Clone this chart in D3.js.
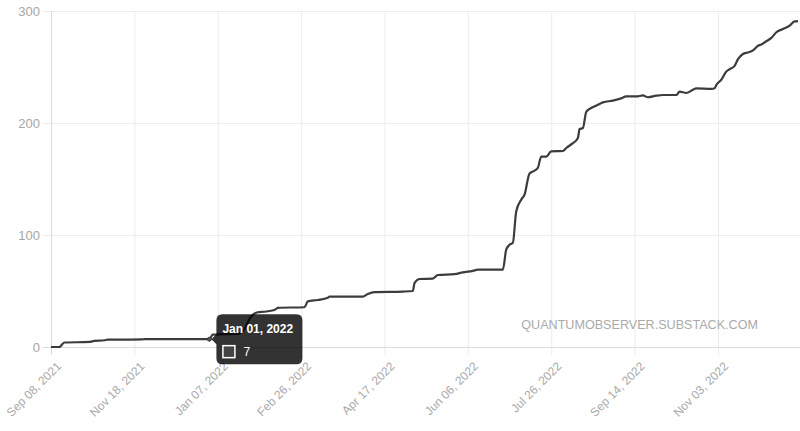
<!DOCTYPE html>
<html>
<head>
<meta charset="utf-8">
<script src="https://cdn.jsdelivr.net/npm/d3@7"></script>
<style>
  body { margin: 0; background: #fff; }
  svg { display: block; font-family: "Liberation Sans", Arial, Helvetica, sans-serif; }
  .grid line { stroke: #ececec; }
</style>
</head>
<body>
<svg id="chart" width="800" height="431"></svg>
<script>
// x positions are point indices along the category axis (one per data row)
var tickIdx = [0, 50, 100, 150, 200, 250, 300, 350, 400];
var tickLabels = ["Sep 08, 2021", "Nov 18, 2021", "Jan 07, 2022", "Feb 26, 2022",
                  "Apr 17, 2022", "Jun 06, 2022", "Jul 26, 2022", "Sep 14, 2022", "Nov 03, 2022"];
var yTicks = [0, 100, 200, 300];

// breakpoints of the cumulative series
var idx = [0, 5, 8, 23, 26, 32, 34, 55, 56, 92, 95, 97, 113, 116, 119, 124, 128, 134, 136,
           152, 154, 160, 166, 167, 187, 190, 194, 211, 217, 218, 221, 229, 232, 242, 247, 253,
           256, 271, 273, 275, 277, 279, 282, 284, 287, 290, 292, 294, 297, 300, 307, 309, 313,
           316, 317, 319, 321, 324, 328, 331, 337, 342, 345, 351, 355, 358, 363, 367, 375, 377,
           381, 385, 387, 396, 398, 399, 402, 405, 407, 410, 412, 415, 418, 421, 424, 426, 429,
           432, 435, 439, 443, 446, 448];
var vals = [0, 0, 4, 4.5, 5.5, 6, 6.5, 6.8, 7, 7, 7, 11, 12, 16, 25, 31, 31.5, 33, 35,
            35.5, 40.7, 42, 44, 45, 45, 47.3, 49, 49.5, 50, 57, 60.7, 61, 64.3, 65, 66.6, 68,
            69, 69, 86.9, 91.3, 93, 121, 131.5, 136, 155, 157.4, 160, 170, 170, 174.6, 175, 177.7, 182,
            186.6, 194.6, 195.5, 210, 213.4, 216.3, 218.4, 220, 222, 223.7, 223.7, 224.6, 223, 224.4, 225, 225, 228,
            226.8, 229.7, 231, 230.5, 231, 234, 238.6, 246, 248, 251, 257, 261.6, 263, 264.8, 269, 270, 273,
            276, 281, 284, 287, 290.7, 291];

// hovered point shown in the tooltip
var hoverIdx = 95, hoverLabel = "Jan 01, 2022", hoverVal = 7;

var svg = d3.select("#chart");

var x = d3.scaleLinear().domain([0, 448]).range([51, 798]);
var y = d3.scaleLinear().domain([0, 300]).range([347, 11]);

// grid
var grid = svg.append("g").attr("class", "grid");
grid.selectAll("line.v").data(tickIdx).enter().append("line")
    .attr("x1", d => x(d) + 0.5).attr("x2", d => x(d) + 0.5)
    .attr("y1", y(300)).attr("y2", y(0) + 8);
grid.selectAll("line.h").data(yTicks).enter().append("line")
    .attr("x1", x(0) - 8).attr("x2", 800)
    .attr("y1", d => y(d) + 0.5).attr("y2", d => y(d) + 0.5);

// axis lines
svg.append("line")
  .attr("x1", x(0) + 0.5).attr("x2", x(0) + 0.5).attr("y1", y(300)).attr("y2", y(0) + 8)
  .style("stroke", "#dcdcdc");
svg.append("line")
  .attr("x1", x(0) - 8).attr("x2", 800).attr("y1", y(0) + 0.5).attr("y2", y(0) + 0.5)
  .style("stroke", "#dcdcdc");

// y labels
svg.append("g").selectAll("text").data(yTicks).enter().append("text")
    .attr("x", 40).attr("y", d => y(d)).attr("dy", "0.35em")
    .attr("text-anchor", "end")
    .style("font-size", "13px").style("fill", "#a6a6a6")
    .text(d => d);

// x labels, rotated
svg.append("g").selectAll("text").data(tickIdx).enter().append("text")
    .attr("transform", d => "translate(" + (x(d) + 8) + "," + (y(0) + 17) + ") rotate(-45)")
    .attr("text-anchor", "end")
    .attr("dy", "0.35em")
    .style("font-size", "12px").style("fill", "#a9a9a9")
    .text((d, i) => tickLabels[i]);

// watermark
svg.append("text")
  .attr("x", 758).attr("y", 329).attr("text-anchor", "end")
  .style("font-size", "12.6px").style("fill", "#aaaaaa")
  .text("QUANTUMOBSERVER.SUBSTACK.COM");

// the series
var pts = idx.map((d, i) => [d, vals[i]]);
var line = d3.line()
  .x(d => x(d[0]))
  .y(d => y(d[1]))
  .curve(d3.curveMonotoneX);

svg.append("path")
  .datum(pts)
  .attr("d", line)
  .style("fill", "none")
  .style("stroke", "#3c3c3c")
  .style("stroke-width", 2.2)
  .style("stroke-linejoin", "round");

svg.append("circle")
  .attr("cx", x(hoverIdx)).attr("cy", y(hoverVal)).attr("r", 2)
  .style("fill", "#555").style("stroke", "#3c3c3c").style("stroke-width", 1);

// tooltip
var tx = x(hoverIdx) + 7, ty = y(hoverVal) - 25;
var tip = svg.append("g").attr("transform", "translate(" + tx + "," + ty + ")");
tip.append("path")
  .attr("d", "M6,0 H80 Q86,0 86,6 V44 Q86,50 80,50 H6 Q0,50 0,44 V30 L-5,25 L0,20 V6 Q0,0 6,0 Z")
  .style("fill", "rgba(0,0,0,0.8)");
tip.append("text")
  .attr("x", 6).attr("y", 19)
  .style("font-size", "12px").style("font-weight", "bold").style("fill", "#fff")
  .text(hoverLabel);
tip.append("rect")
  .attr("x", 6.5).attr("y", 31.5).attr("width", 12).attr("height", 12)
  .style("fill", "#444").style("stroke", "#fff").style("stroke-width", 1.5);
tip.append("text")
  .attr("x", 27).attr("y", 42)
  .style("font-size", "12px").style("fill", "#fff")
  .text(hoverVal);
</script>
</body>
</html>
